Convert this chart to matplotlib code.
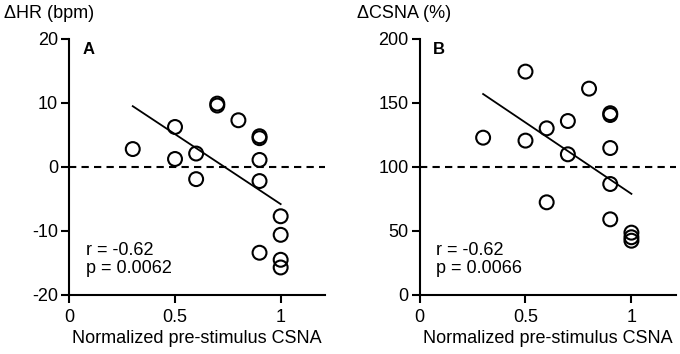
import matplotlib
matplotlib.use("Agg")
import matplotlib.pyplot as plt
import numpy as np

plt.rcParams['font.family'] = ['Liberation Sans', 'DejaVu Sans']
plt.rcParams['font.size'] = 13
plt.rcParams['axes.unicode_minus'] = False

# panel A: change in heart rate
xa = [0.3, 0.5, 0.5, 0.6, 0.6, 0.7, 0.7, 0.8, 0.9, 0.9, 0.9, 0.9, 0.9, 1.0, 1.0, 1.0, 1.0]
ya = [2.8, 6.25, 1.25, 2.1, -1.9, 9.9, 9.6, 7.3, 4.8, 4.5, 1.1, -2.2, -13.4, -7.7, -10.6, -14.5, -15.7]
# panel B: change in CSNA
xb = [0.3, 0.5, 0.5, 0.6, 0.6, 0.7, 0.7, 0.8, 0.9, 0.9, 0.9, 0.9, 0.9, 1.0, 1.0, 1.0]
yb = [122.9, 174.5, 120.6, 130.2, 72.4, 135.9, 109.9, 161.2, 142, 140.6, 114.8, 86.7, 59.1, 48.7, 45.1, 42.4]

# fitted lines
fit_x = [0.3, 1.0]
fit_a = [9.5, -5.8]
fit_b = [157, 79]

fig = plt.figure(figsize=(6.8, 3.54), dpi=100)
ax1 = fig.add_axes([0.102, 0.1667, 0.376, 0.7232])
ax2 = fig.add_axes([0.617, 0.1667, 0.377, 0.7232])

panels = [
    (ax1, xa, ya, fit_a, (-20, 20), [-20, -10, 0, 10, 20], 0, "A", "r = -0.62\np = 0.0062"),
    (ax2, xb, yb, fit_b, (0, 200), [0, 50, 100, 150, 200], 100, "B", "r = -0.62\np = 0.0066"),
]
for ax, x, y, fit, ylim, yt, ref, letter, stats in panels:
    ax.scatter(x, y, s=100, facecolors='none', edgecolors='black', linewidths=1.5, zorder=3)
    ax.plot(fit_x, fit, color='black', lw=1.3)
    ax.axhline(ref, color='black', lw=1.5, ls=(0, (3.5, 2.5)))
    ax.set_xlim(0, 1.21)
    ax.set_ylim(*ylim)
    ax.set_xticks([0, 0.5, 1])
    ax.set_xticklabels(["0", "0.5", "1"])
    ax.set_yticks(yt)
    ax.spines['top'].set_visible(False)
    ax.spines['right'].set_visible(False)
    ax.spines['left'].set_linewidth(1.5)
    ax.spines['bottom'].set_linewidth(1.5)
    ax.tick_params(width=1.5, length=6, labelsize=13)
    ax.tick_params(axis='y', pad=2)
    ax.tick_params(axis='x', pad=4)
    ax.set_xlabel("Normalized pre-stimulus CSNA", fontsize=13, labelpad=3)
    ax.text(0.05, 0.99, letter, transform=ax.transAxes, fontweight='bold', fontsize=12, va='top')
    ax.text(0.065, 0.07, stats, transform=ax.transAxes, fontsize=13, va='bottom', linespacing=1.05)

fig.text(4 / 680, 1 - 14 / 354, "\u0394HR (bpm)", fontsize=13, va='center')
fig.text(357 / 680, 1 - 14 / 354, "\u0394CSNA (%)", fontsize=13, va='center')

fig.savefig("out.png", dpi=100)
